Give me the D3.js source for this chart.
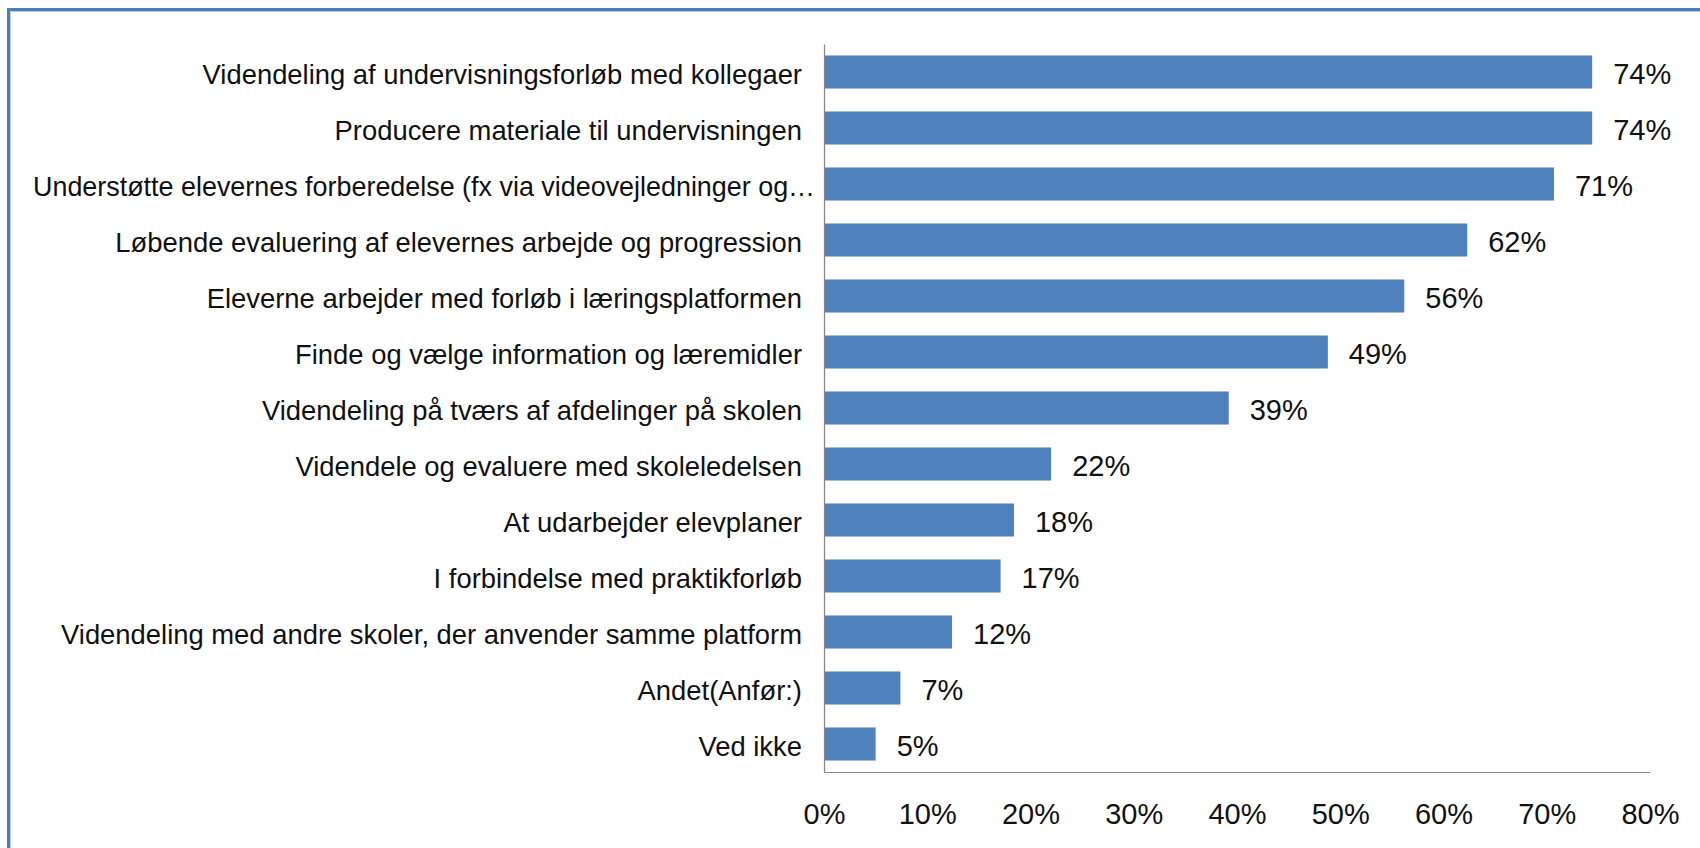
<!DOCTYPE html>
<html>
<head>
<meta charset="utf-8">
<script src="https://cdn.jsdelivr.net/npm/d3@7"></script>
<style>
  html, body { margin: 0; padding: 0; background: #fff; }
  svg { display: block; }
  text { font-family: "Liberation Sans", Arial, sans-serif; fill: #111; }
</style>
</head>
<body>
<svg id="chart" width="1700" height="848"></svg>
<script>
const categories = [
  "Videndeling af undervisningsforløb med kollegaer",
  "Producere materiale til undervisningen",
  "Understøtte elevernes forberedelse (fx via videovejledninger og…",
  "Løbende evaluering af elevernes arbejde og progression",
  "Eleverne arbejder med forløb i læringsplatformen",
  "Finde og vælge information og læremidler",
  "Videndeling på tværs af afdelinger på skolen",
  "Videndele og evaluere med skoleledelsen",
  "At udarbejder elevplaner",
  "I forbindelse med praktikforløb",
  "Videndeling med andre skoler, der anvender samme platform",
  "Andet(Anfør:)",
  "Ved ikke"
];
const values = [74.4, 74.4, 70.7, 62.3, 56.2, 48.8, 39.2, 22.0, 18.4, 17.1, 12.4, 7.4, 5.0];
const tickValues = [0, 10, 20, 30, 40, 50, 60, 70, 80];

const svg = d3.select("#chart");
const W = 1700, H = 848;
const fs = 29;      // value and tick labels
const fsCat = 27.4; // category labels

// frame
svg.append("rect").attr("x", 8.5).attr("y", 9.5).attr("width", W + 20).attr("height", H + 20)
  .attr("fill", "none").attr("stroke", "#4a7ebb").attr("stroke-width", 3);
svg.append("rect").attr("x", 10.5).attr("y", 11.5).attr("width", W + 20).attr("height", H + 20)
  .attr("fill", "none").attr("stroke", "#b9cde5").attr("stroke-width", 1);

const x = d3.scaleLinear().domain([0, 80]).range([824, 1650]);
const y = d3.scaleBand().domain(categories).range([44, 772]).paddingInner(0.41).paddingOuter(0.205);

// bars
svg.append("g").selectAll("rect").data(values).join("rect")
  .attr("x", x(0))
  .attr("y", (d, i) => y(categories[i]))
  .attr("width", d => x(d) - x(0))
  .attr("height", y.bandwidth())
  .attr("fill", "#4f81bd");

// value labels
svg.append("g").selectAll("text").data(values).join("text")
  .attr("x", d => x(d) + 21)
  .attr("y", (d, i) => y(categories[i]) + y.bandwidth() / 2 + 2)
  .attr("dy", "0.35em")
  .attr("font-size", fs)
  .text(d => d3.format(".0f")(d) + "%");

// axes
const yAxis = svg.append("g").attr("transform", `translate(${x(0)},0)`)
  .call(d3.axisLeft(y).tickSize(0).tickPadding(22));
yAxis.select(".domain").attr("stroke", "#868686").attr("stroke-width", 1.2);
yAxis.selectAll("text")
  .attr("font-size", fsCat)
  .attr("font-family", "Liberation Sans, Arial, sans-serif")
  .attr("fill", "#111")
  .attr("dy", "0.42em")
  .each(function(d) {
    // truncated label in the reference runs almost to the axis
    if (d.endsWith("…")) {
      d3.select(this).attr("x", -9).attr("textLength", 782).attr("lengthAdjust", "spacingAndGlyphs");
    }
  });

const xAxis = svg.append("g").attr("transform", `translate(0,772)`)
  .call(d3.axisBottom(x).tickValues(tickValues).tickSize(0).tickPadding(31).tickFormat(d => d + "%"));
xAxis.select(".domain").attr("stroke", "#868686").attr("stroke-width", 1.2);
xAxis.selectAll("text").attr("font-size", fs).attr("font-family", "Liberation Sans, Arial, sans-serif").attr("fill", "#111");
</script>
</body>
</html>
